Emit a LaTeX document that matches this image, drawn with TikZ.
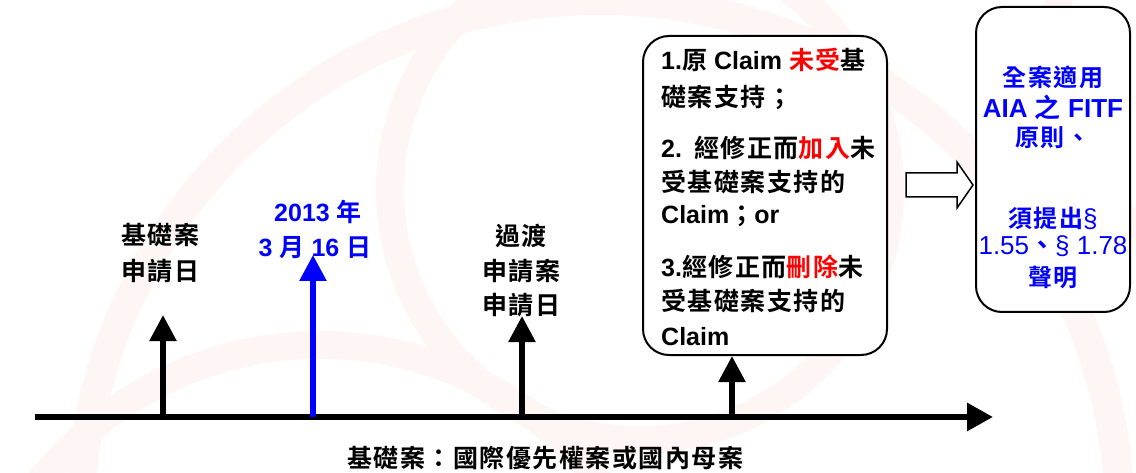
\documentclass[tikz,border=0pt]{standalone}
\usepackage{fontspec}
\setmainfont{Liberation Sans}
\newfontfamily\zhfont{Noto Sans CJK TC}[UprightFont=* Bold,BoldFont=* Bold,LetterSpace=6]
\usetikzlibrary{arrows.meta}
\newcommand\zhtext[1]{{\zhfont #1}}
\definecolor{wm}{RGB}{254,245,245}
\definecolor{pblue}{RGB}{0,0,255}
\definecolor{pred}{RGB}{255,0,0}
\tikzset{
  lbl/.style={inner sep=0pt, anchor=base, font=\bfseries\fontsize{25}{30}\selectfont},
  bl/.style={lbl, anchor=base west},
  sm/.style={lbl, font=\bfseries\fontsize{24}{30}\selectfont, text=pblue},
  smb/.style={lbl, font=\bfseries\fontsize{26}{30}\selectfont, text=pblue},
  roundbox/.style={draw, line width=2pt, rounded corners=26pt, fill=white, inner sep=0pt},
  stem/.style={line width=5.5pt, -{Triangle[width=26pt,length=26pt]}},
  tline/.style={line width=6pt, -{Triangle[width=27pt,length=26pt]}},
  hollow/.style={draw, line width=1.5pt, fill=white, line join=miter}
}
\begin{document}
\begin{tikzpicture}[x=1pt,y=-1pt]
\useasboundingbox (0,0) rectangle (1136,473);
\clip (0,0) rectangle (1136,473);
% faint watermark
\draw[wm, line width=30pt] (600,520) circle (520);
\draw[wm, line width=28pt] (640,190) circle (250);
\draw[wm, line width=28pt] (320,700) circle (355);
\draw[wm, line width=26pt] (1250,60) circle (200);

% timeline
\coordinate (tl0) at (35,417);
\coordinate (tl1) at (993,417);
\draw[tline] (tl0) -- (tl1);
\coordinate (p1) at (163,417);
\coordinate (p2) at (313,417);
\coordinate (p3) at (522,417);
\coordinate (p4) at (732,417);
\coordinate (t1) at (163,315);
\coordinate (t2) at (313,255);
\coordinate (t3) at (522,316);

% labels
\node[lbl] (a1) at (160,245) {\zhtext{基礎案}};
\node[lbl] (a2) at (160,280) {\zhtext{申請日}};
\node[lbl, text=pblue] (b1) at (318,222) {2013 \zhtext{年}};
\node[lbl, text=pblue] (b2) at (315,257) {3 \zhtext{月} 16 \zhtext{日}};
\node[lbl] (c1) at (521,246) {\zhtext{過渡}};
\node[lbl] (c2) at (521,281) {\zhtext{申請案}};
\node[lbl] (c3) at (521,315) {\zhtext{申請日}};

% box 1
\node[roundbox, minimum width=244pt, minimum height=319pt] (box1) at (765,195.5) {};
\node[bl] (l1) at (661,70) {1.\zhtext{原} Claim \textcolor{pred}{\zhtext{未受}}\zhtext{基}};
\node[bl] (l2) at (661,107) {\zhtext{礎案支持；}};
\node[bl] (l3) at (661,158) {2.\hspace{12pt}\zhtext{經修正而}\textcolor{pred}{\zhtext{加入}}\zhtext{未}};
\node[bl] (l4) at (661,192) {\zhtext{受基礎案支持的}};
\node[bl] (l5) at (661,224) {Claim\zhtext{；}or};
\node[bl] (l6) at (661,277) {3.\zhtext{經修正而}\textcolor{pred}{\zhtext{刪除}}\zhtext{未}};
\node[bl] (l7) at (661,311) {\zhtext{受基礎案支持的}};
\node[bl] (l8) at (661,345) {Claim};

% box 2
\node[roundbox, minimum width=154pt, minimum height=305pt] (box2) at (1053,159.5) {};
\node[sm] (r1) at (1053,87) {\zhtext{全案適用}};
\node[smb] (r2) at (1053,118) {AIA \zhtext{之} FITF};
\node[sm] (r3) at (1053,147) {\zhtext{原則、}};
\node[sm] (r4) at (1053,228) {\zhtext{須提出}{\mdseries\fontsize{26}{30}\selectfont §}};
\node[smb] (r5) at (1053,255) {\mdseries 1.55\zhtext{、}§ 1.78};
\node[sm] (r6) at (1053,287) {\zhtext{聲明}};

% hollow arrow
\draw[hollow] (906,173) -- (957,173) -- (957,162) -- (973,185) -- (957,208) -- (957,197) -- (906,197) -- cycle;

% stems
\draw[stem] (p1) -- (t1);
\draw[stem, draw=pblue, fill=pblue] (p2) -- (t2);
\draw[stem] (p3) -- (t3);
\draw[stem] (p4) -- (p4 |- box1.south);

% caption
\node[lbl, font=\bfseries\fontsize{25}{30}\selectfont] (cap) at (545,467) {\zhtext{基礎案：國際優先權案或國內母案}};
\end{tikzpicture}
\end{document}
